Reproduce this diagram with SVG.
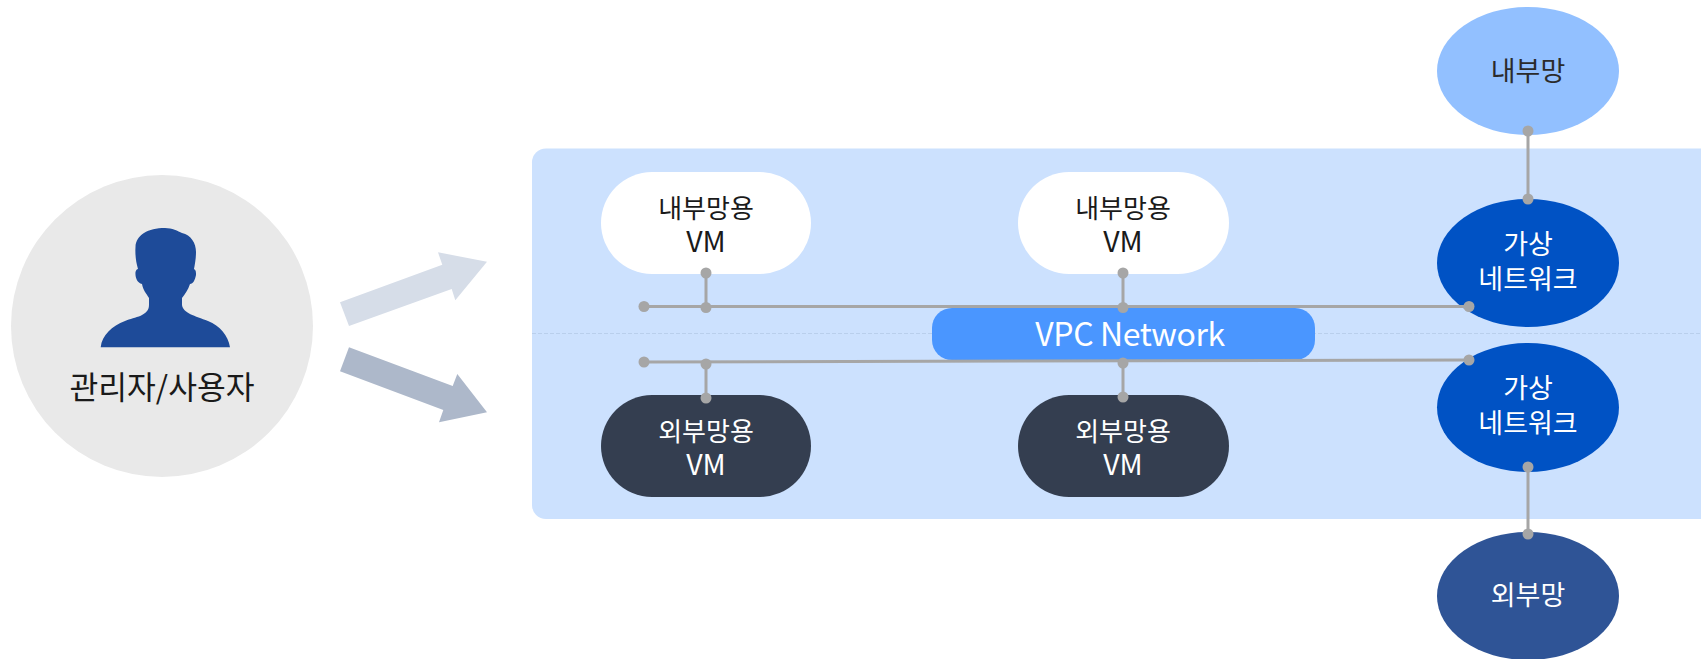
<svg xmlns="http://www.w3.org/2000/svg" width="1701" height="659" viewBox="0 0 1701 659">
<defs>
<style>
text{font-family:"Noto Sans CJK KR","Noto Sans",sans-serif;text-anchor:middle;font-size:27px}
.dk{fill:#1a1a1a}.lt{fill:#fff}
.vm{font-size:28.500px}.lbl{font-size:26px}
.ln{stroke:#a6a6a6;stroke-width:3;fill:none}
.dot{fill:#a6a6a6}
</style>
</defs>
<rect width="1701" height="659" fill="#fff"/>
<path id="panel" d="M1701 148.500H546a14 14 0 0 0-14 14V505a14 14 0 0 0 14 14H1701Z" fill="#cce1fe"/>
<line x1="532" y1="333.500" x2="1701" y2="333.500" stroke="#b9cfec" stroke-width="1" stroke-dasharray="4 2"/>
<g id="user">
<circle cx="162" cy="326" r="151" fill="#e9e9e9"/>
<path d="M100.700 347.300C102 335 112 326 125 321C135 317 149 316 149 305L149 298C146 293 143 290 142 284C137 283 135 277 135.500 272C136 270 137 269 138 269C136 262 135 255 135.500 247C136 235 148 228 165 228C172 228 178 231 182 233C191 235 196 243 196 252C196 258 195 264 194 269C196 270 196 272 196 275C195 280 193 284 190 284C188 290 185 294 182 298L182 305C183 313 195 316 208 321C220 326 228 335 230 347.300Z" fill="#1e4b99"/>
<text x="162" y="399" class="dk" style="font-size:31.300px">관리자/사용자</text>
</g>
<g id="arrows">
<polygon points="340,302.300 349,326 451.700,289 455.300,300.300 487,261.700 438,252.300 442.300,264.700" fill="#d6dde8"/>
<polygon points="349,347.300 340,371.300 443.300,410 439,422.300 487,412.300 457.300,374 452.700,386" fill="#adb8ca"/>
</g>
<g id="vm-int-1"><rect x="601" y="172" width="210" height="102" rx="51" fill="#fff"/><text x="706" y="218" class="dk lbl">내부망용</text><text x="706" y="252" class="dk vm">VM</text></g>
<g id="vm-int-2"><rect x="1018" y="172" width="211" height="102" rx="51" fill="#fff"/><text x="1123" y="218" class="dk lbl">내부망용</text><text x="1123" y="252" class="dk vm">VM</text></g>
<g id="vm-ext-1"><rect x="601" y="395" width="210" height="102" rx="51" fill="#343e50"/><text x="706" y="441" class="lt lbl">외부망용</text><text x="706" y="475" class="lt vm">VM</text></g>
<g id="vm-ext-2"><rect x="1018" y="395" width="211" height="102" rx="51" fill="#343e50"/><text x="1123" y="441" class="lt lbl">외부망용</text><text x="1123" y="475" class="lt vm">VM</text></g>
<g id="vpc"><rect x="932" y="308" width="383" height="52" rx="20" fill="#4a96ff"/><text x="1130" y="346" class="lt" style="font-size:32px;letter-spacing:-.4px">VPC Network</text></g>
<g id="net-int"><ellipse cx="1528" cy="71" rx="91" ry="64" fill="#92c0ff"/><text x="1528" y="81" fill="#2b2b2b">내부망</text></g>
<g id="vnet-1"><ellipse cx="1528" cy="263" rx="91" ry="64" fill="#0052c4"/><text x="1528" y="254" class="lt">가상</text><text x="1528" y="289" class="lt">네트워크</text></g>
<g id="vnet-2"><ellipse cx="1528" cy="407.500" rx="91" ry="64.500" fill="#0052c4"/><text x="1528" y="398" class="lt">가상</text><text x="1528" y="433" class="lt">네트워크</text></g>
<g id="net-ext"><ellipse cx="1528" cy="596" rx="91" ry="64" fill="#2f5496"/><text x="1528" y="605" class="lt">외부망</text></g>
<g id="connectors">
<path class="ln" d="M644 306.500H1469M644 362L1469 360M706 273V307.500M706 364V398M1123 273V307.500M1123 363V397M1528 131V199M1528 467V534"/>
<g class="dot">
<circle cx="644" cy="306.500" r="5.500"/><circle cx="706" cy="307.500" r="5.500"/><circle cx="706" cy="273" r="5.500"/><circle cx="1123" cy="273" r="5.500"/><circle cx="1123" cy="307.500" r="5.500"/><circle cx="1469" cy="306.500" r="5.500"/>
<circle cx="644" cy="362" r="5.500"/><circle cx="706" cy="364" r="5.500"/><circle cx="706" cy="398" r="5.500"/><circle cx="1123" cy="363" r="5.500"/><circle cx="1123" cy="397" r="5.500"/><circle cx="1469" cy="360" r="5.500"/>
<circle cx="1528" cy="131" r="5.500"/><circle cx="1528" cy="199" r="5.500"/><circle cx="1528" cy="467" r="5.500"/><circle cx="1528" cy="534" r="5.500"/>
</g>
</g>
</svg>
